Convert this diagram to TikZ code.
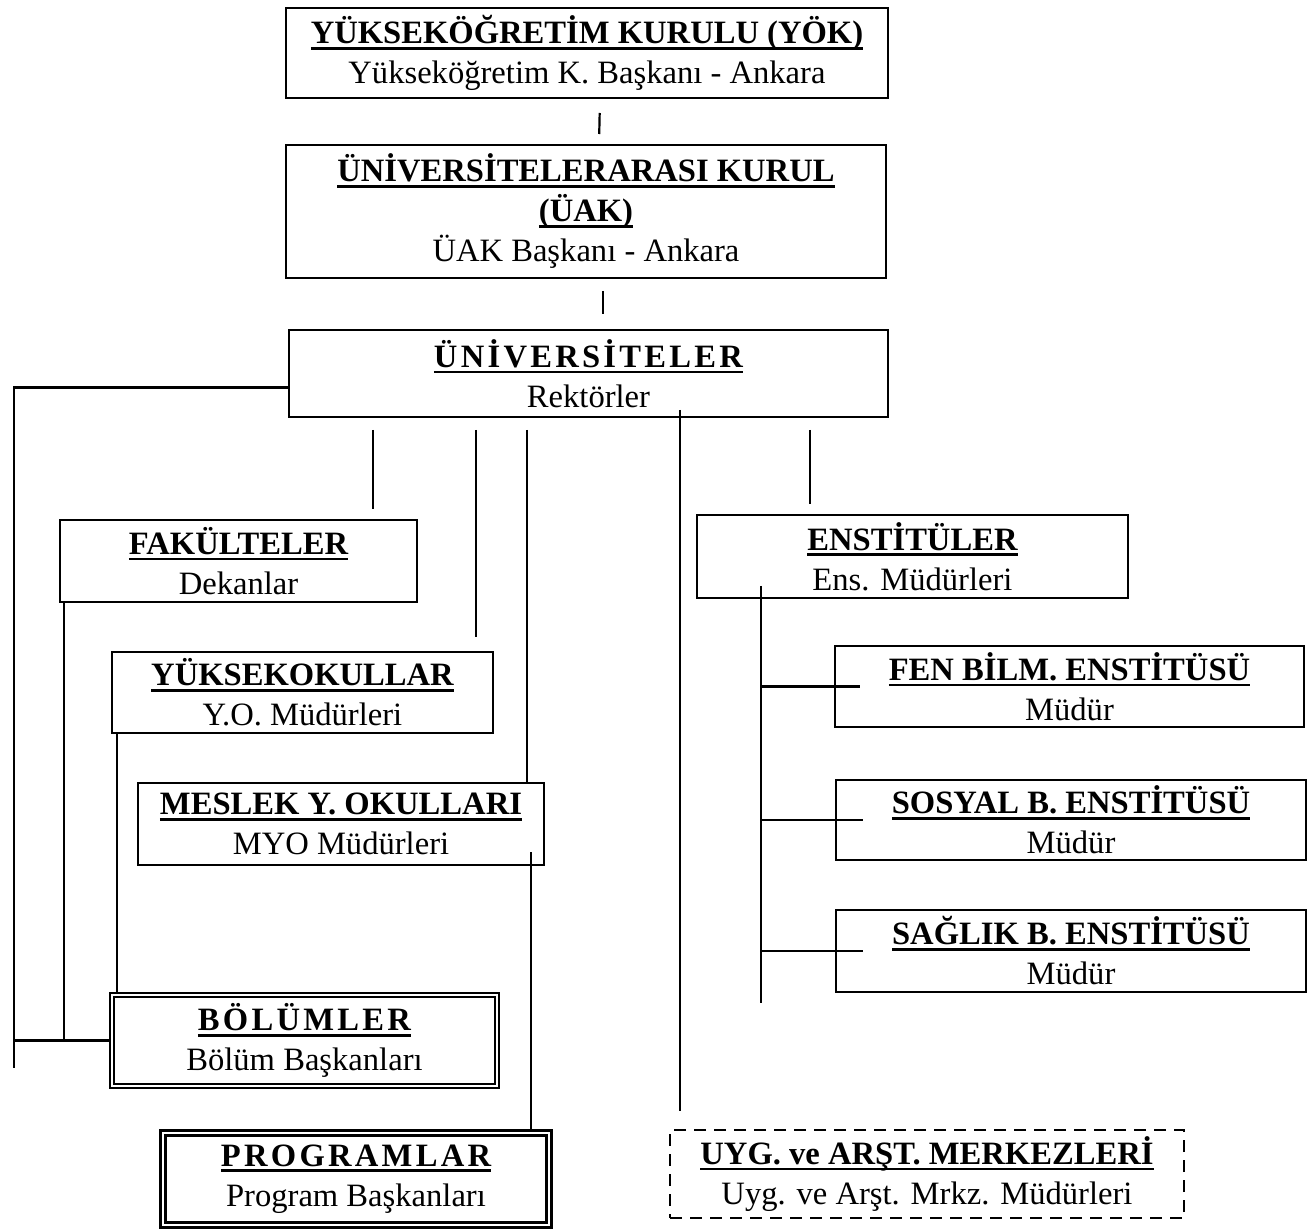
\documentclass[tikz,border=0pt]{standalone}
\usepackage{fontspec}
\setmainfont{Liberation Serif}
\usepackage{xcolor}
\usepackage{tikz}

\newcommand{\heading}[1]{\setbox0=\hbox{\bfseries #1}\leavevmode\rlap{\rule[-3pt]{\wd0}{1.4pt}}\box0}
\newcommand{\spaced}[1]{{\addfontfeature{LetterSpace=10}#1}}

\begin{document}
\begin{tikzpicture}[
    x=0.5pt, y=-0.5pt,
    unitbox/.style={rectangle, draw, line width=1pt, align=center, inner sep=2pt, font=\fontsize{16.3}{20}\selectfont},
    mainbox/.style={unitbox, double, line width=1.1pt, double distance=1.2pt},
    centerbox/.style={unitbox, dash pattern=on 6pt off 4pt, line width=1.1pt},
    link/.style={line width=1.1pt}
]
    \useasboundingbox (0,0) rectangle (1314,1230);

    \node[unitbox, minimum width=301pt, minimum height=45pt] (yok) at (587,53) {\heading{YÜKSEKÖĞRETİM KURULU (YÖK)}\\Yükseköğretim K. Başkanı - Ankara};
    \node[unitbox, minimum width=300pt, minimum height=66.5pt] (uak) at (586,211.5) {\heading{ÜNİVERSİTELERARASI KURUL}\\\heading{(ÜAK)}\\ÜAK Başkanı - Ankara};
    \node[unitbox, minimum width=299.5pt, minimum height=43.5pt] (uni) at (588.5,373.5) {\heading{\spaced{ÜNİVERSİTELER}}\\Rektörler};
    \node[unitbox, minimum width=178.5pt, minimum height=41pt] (fak) at (238.5,561) {\heading{FAKÜLTELER}\\Dekanlar};
    \node[unitbox, minimum width=190.5pt, minimum height=40.5pt] (yo) at (302.5,692.5) {\heading{YÜKSEKOKULLAR}\\Y.O. Müdürleri};
    \node[unitbox, minimum width=203pt, minimum height=41pt] (myo) at (341,824) {\heading{MESLEK Y. OKULLARI}\\MYO Müdürleri};
    \node[mainbox, minimum width=192.5pt, minimum height=45.5pt] (bol) at (304.5,1040.5) {\heading{\spaced{BÖLÜMLER}}\\Bölüm Başkanları};
    \node[mainbox, line width=1.6pt, minimum width=193pt, minimum height=46pt] (prog) at (356,1179) {\heading{\spaced{PROGRAMLAR}}\\Program Başkanları};
    \node[unitbox, minimum width=215.5pt, minimum height=41.5pt] (ens) at (912.5,556.5) {\heading{ENSTİTÜLER}\\Ens. Müdürleri};
    \node[unitbox, minimum width=234.5pt, minimum height=40.5pt] (fen) at (1069.5,686.5) {\heading{FEN BİLM. ENSTİTÜSÜ}\\Müdür};
    \node[unitbox, minimum width=235pt, minimum height=40pt] (sos) at (1071,820) {\heading{SOSYAL B. ENSTİTÜSÜ}\\Müdür};
    \node[unitbox, minimum width=235pt, minimum height=41pt] (sag) at (1071,951) {\heading{SAĞLIK B. ENSTİTÜSÜ}\\Müdür};
    \node[centerbox, minimum width=257pt, minimum height=44pt] (uyg) at (927,1174) {\heading{UYG. ve ARŞT. MERKEZLERİ}\\Uyg. ve Arşt. Mrkz. Müdürleri};

    \draw[link, shorten <=7pt, shorten >=5pt] ([xshift=6.5pt]yok.south) -- ([xshift=6.5pt]uak.north);
    \draw[link, shorten <=6pt, shorten >=7.5pt] ([xshift=8.5pt]uak.south) coordinate (t2) -- (t2 |- uni.north);

    \draw[link] ([yshift=-7pt]uni.west) -| (14,1068);
    \draw[link] (bol.west) -- (bol.west -| 14,0);
    \draw[link] ([xshift=2.5pt]fak.south west) coordinate (f1) -- (f1 |- bol.west);
    \draw[link] ([xshift=3pt]yo.south west) coordinate (y1) -- (y1 |- bol.north);
    \draw[link] ([xshift=-7pt,yshift=7pt]myo.south east) coordinate (m1) -- (m1 |- prog.north);

    \draw[link, shorten <=6pt, shorten >=5pt] (uni.south -| 373,0) -- (fak.north -| 373,0);
    \draw[link, shorten <=6pt, shorten >=7pt] (uni.south -| 476,0) -- (yo.north -| 476,0);
    \draw[link, shorten <=6pt] (uni.south -| 527,0) -- (myo.north -| 527,0);
    \draw[link, shorten <=-4pt, shorten >=9pt] (uni.south -| 680,0) -- (uyg.north -| 680,0);
    \draw[link, shorten <=6pt, shorten >=5pt] (uni.south -| 810,0) -- (ens.north -| 810,0);

    \draw[link] ([xshift=32.5pt,yshift=6.5pt]ens.south west) coordinate (e1) -- (e1 |- 0,1003);
    \draw[link, shorten >=-13pt] (e1 |- fen.west) -- (fen.west);
    \draw[link, shorten >=-14pt] (e1 |- sos.west) -- (sos.west);
    \draw[link, shorten >=-14pt] (e1 |- sag.west) -- (sag.west);
\end{tikzpicture}
\end{document}
